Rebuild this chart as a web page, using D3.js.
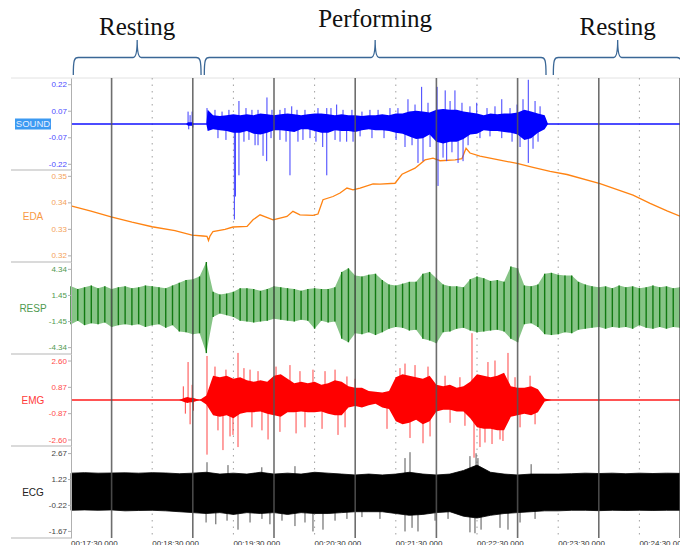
<!DOCTYPE html>
<html>
<head>
<meta charset="utf-8">
<script src="https://cdn.jsdelivr.net/npm/d3@7"></script>
<style>
  body { margin: 0; background: #fff; }
  svg text { font-family: "Liberation Sans", Arial, sans-serif; }
</style>
</head>
<body>
<div id="chart"></div>
<script>
// all times are seconds after 00:17:30.000

var timeTicks = [0, 60, 120, 180, 240, 300, 360, 420];
var timeLabels = ['00:17:30.000', '00:18:30.000', '00:19:30.000', '00:20:30.000',
  '00:21:30.000', '00:22:30.000', '00:23:30.000', '00:24:30.000'];
var minuteMarks = [30, 90, 150, 210, 270, 330, 390, 450];

var phaseNames = ['Resting', 'Performing', 'Resting'];
var phaseStart = [1.7, 98.5, 356.4];
var phaseEnd = [96.1, 351, 451.5];

var channelNames = ['SOUND', 'EDA', 'RESP', 'EMG', 'ECG'];

var soundTicks = [0.225, 0.075, -0.075, -0.225];
var soundTickLabels = ['0.22', '0.07', '-0.07', '-0.22'];
var edaTicks = [0.35, 0.34, 0.33, 0.32];
var edaTickLabels = ['0.35', '0.34', '0.33', '0.32'];
var respTicks = [4.34, 1.45, -1.45, -4.34];
var respTickLabels = ['4.34', '1.45', '-1.45', '-4.34'];
var emgTicks = [2.6, 0.867, -0.867, -2.6];
var emgTickLabels = ['2.60', '0.87', '-0.87', '-2.60'];
var ecgTicks = [2.67, 1.22, -0.22, -1.67];
var ecgTickLabels = ['2.67', '1.22', '-0.22', '-1.67'];

// SOUND: envelope of the dense band + single spikes
var soundT = [85, 86.5, 88, 89.5, 91, 100, 101, 105, 110, 115, 120, 125, 130, 135, 140, 145, 150, 155, 160, 165,
  170, 175, 180, 185, 190, 195, 200, 205, 210, 215, 220, 225, 230, 235, 240, 245, 250, 255, 260, 265,
  270, 275, 280, 285, 290, 295, 300, 305, 310, 315, 320, 325, 330, 335, 340, 345, 350, 352.5];
var soundHi = [0, 0.01, 0.01, 0.01, 0, 0, 0.08, 0.05, 0.045, 0.05, 0.055, 0.05, 0.055, 0.05, 0.06, 0.055, 0.05, 0.055, 0.06, 0.055,
  0.05, 0.055, 0.06, 0.06, 0.055, 0.05, 0.055, 0.05, 0.05, 0.045, 0.05, 0.05, 0.055, 0.05, 0.06, 0.06, 0.07, 0.075, 0.07, 0.065,
  0.08, 0.085, 0.08, 0.08, 0.07, 0.065, 0.06, 0.05, 0.06, 0.055, 0.06, 0.06, 0.065, 0.08, 0.07, 0.06, 0.05, 0];
var soundLo = [0, -0.01, -0.01, -0.01, 0, 0, -0.04, -0.03, -0.035, -0.04, -0.05, -0.05, -0.04, -0.055, -0.06, -0.05, -0.035, -0.035, -0.04, -0.045,
  -0.03, -0.03, -0.04, -0.05, -0.05, -0.035, -0.04, -0.04, -0.045, -0.035, -0.03, -0.035, -0.035, -0.04, -0.05, -0.055, -0.07, -0.085, -0.08, -0.06,
  -0.1, -0.11, -0.1, -0.1, -0.085, -0.06, -0.055, -0.035, -0.04, -0.04, -0.045, -0.05, -0.06, -0.09, -0.08, -0.05, -0.03, 0];
var soundSpikeT = [86.5, 89.5, 87, 88, 90, 100.5, 120.7, 121.5, 124.1, 124.1, 136, 141.9, 144.6, 144.8, 154.4, 154.4, 161.8, 163.1, 167.7,
  186, 189, 189, 196.3, 203.7, 208.4, 246.8, 249, 256.4, 259.1, 260.1, 270.5, 271.2, 274.9, 276.5, 277.6, 283.7,
  286, 289.7, 299.8, 318.3, 318.3, 334, 337.9, 337.9, 341.4, 342.9,
  101.2, 106.4, 111.6, 116.7, 129.3, 133.7, 138.2, 148.5, 158.1, 167, 172.9, 182.5, 192.1, 201, 207.6, 215, 220.9,
  226.9, 235.7, 241.6, 254.2, 263.8, 280.1, 288.9, 294.8, 307.4, 313.3, 324.4, 329.6, 346.6,
  108.6, 114.5, 127.8, 131.5, 138.2, 147.8, 158.9, 171.4, 176.6, 181, 195.1, 198.8, 213.6, 222.4, 231.3, 240.2,
  252, 265.3, 281.5, 293.4, 302.2, 309.6, 325.9, 331.8, 345.1];
var soundSpikeV = [0.07, 0.07, -0.03, 0.05, -0.02, 0.09, -0.54, -0.41, -0.29, 0.13, -0.12, -0.18, -0.21, 0.15, -0.09, 0.08, -0.29, 0.10, -0.10,
  -0.13, -0.29, 0.09, 0.11, -0.10, -0.10, -0.13, 0.14, -0.22, 0.21, -0.21, 0.21, -0.35, -0.19, 0.19, -0.21, 0.19,
  -0.22, -0.21, 0.12, -0.08, 0.14, 0.14, 0.25, -0.22, -0.14, 0.13,
  0.07, 0.08, 0.07, 0.08, 0.09, 0.08, 0.08, 0.08, 0.09, 0.08, 0.08, 0.09, 0.09, 0.08, 0.08, 0.07, 0.08,
  0.08, 0.09, 0.09, 0.11, 0.12, 0.13, 0.12, 0.10, 0.09, 0.10, 0.09, 0.11, 0.10,
  -0.08, -0.09, -0.10, -0.09, -0.12, -0.08, -0.10, -0.09, -0.08, -0.10, -0.09, -0.10, -0.07, -0.08, -0.08, -0.09,
  -0.12, -0.13, -0.16, -0.12, -0.08, -0.07, -0.10, -0.13, -0.10];

// EDA: slow line
var edaT = [0, 14.8, 29.6, 45.1, 59.9, 76.8, 89.4, 97.5, 100.5, 101.6, 102.7, 104.9, 113.8, 119.7, 130.1, 134.5, 139.7, 144.1,
  149.3, 159.6, 164, 169.2, 178.8, 182.5, 186.2, 193.6, 198.8, 203.9, 208.4, 213.6, 223.2, 228.3, 239.4, 244.6, 254.2,
  261.6, 267.5, 272.7, 283.8, 288.9, 291.9, 294.8, 302.2, 317, 329.6, 341.4, 354, 366.5, 390.9, 415.3, 427.9, 440.4, 450];
var edaV = [0.3387, 0.3367, 0.3345, 0.3325, 0.3308, 0.3293, 0.3276, 0.3273, 0.3272, 0.3256, 0.3273, 0.3290, 0.3298, 0.3307,
  0.3309, 0.3334, 0.3353, 0.3344, 0.3334, 0.3347, 0.3366, 0.3353, 0.3351, 0.3356, 0.3410, 0.3422, 0.3435, 0.3454, 0.3447,
  0.3454, 0.3470, 0.3469, 0.3472, 0.3506, 0.3529, 0.3560, 0.3567, 0.3557, 0.3560, 0.3565, 0.3604, 0.3586, 0.3574, 0.3559,
  0.3547, 0.3532, 0.3517, 0.3505, 0.3471, 0.3427, 0.3396, 0.3368, 0.3348];

// RESP: breathing envelope every 5 s (peaks / troughs)
var respT = d3.range(0, 451, 5);
var respHi = [2.4, 2.1, 2.3, 2.5, 2.2, 2.4, 2.1, 2.3, 2.4, 2.2, 2.3, 2.5, 2.4, 2.3, 2.2, 2.5, 2.8, 3.1, 3.2, 3.5,
  5.1, 1.8, 1.5, 1.6, 1.8, 2.2, 2.2, 2.1, 1.9, 2.1, 2.4, 2.3, 2.2, 2.1, 1.9, 2.1, 2.2, 2.1, 2.1, 2.3,
  4.0, 4.4, 3.6, 3.5, 3.7, 3.8, 3.1, 2.6, 2.5, 2.7, 2.9, 2.9, 3.8, 4.0, 3.3, 2.6, 2.4, 2.4, 2.3, 3.2,
  3.5, 3.3, 3.0, 3.1, 2.9, 4.6, 4.4, 2.5, 2.4, 2.6, 3.8, 3.9, 3.7, 3.6, 3.6, 2.9, 2.6, 2.4, 2.3, 2.4,
  2.2, 2.5, 2.3, 2.4, 2.2, 2.3, 2.5, 2.3, 2.4, 2.2, 2.3];
var respLo = [-1.8, -1.4, -1.9, -1.7, -1.8, -1.6, -2.1, -1.9, -1.8, -1.9, -1.8, -2.1, -1.9, -1.8, -2.2, -1.9, -2.6, -2.7, -2.9, -2.8,
  -5.0, -1.0, -0.6, -0.8, -1.0, -1.4, -1.5, -1.6, -1.5, -1.4, -1.2, -1.3, -1.4, -1.5, -1.3, -1.4, -2.3, -1.4, -1.6, -1.5,
  -3.4, -3.8, -2.8, -2.9, -2.7, -3.0, -2.7, -2.3, -2.1, -2.2, -2.5, -2.4, -3.4, -3.6, -3.9, -2.7, -2.6, -2.3, -2.2, -2.5,
  -2.7, -2.6, -2.5, -2.4, -2.6, -3.4, -3.8, -1.8, -1.7, -2.1, -2.9, -3.0, -2.9, -2.7, -2.8, -2.4, -2.3, -2.2, -2.1, -2.3,
  -2.1, -2.2, -2.1, -2.3, -1.9, -2.2, -2.3, -2.1, -2.3, -2.1, -2.2];

// EMG
var emgT = [80, 84, 86, 88, 90, 95, 100, 105, 110, 115, 120, 125, 130, 135, 140, 145, 150, 155, 160, 165, 170, 175,
  180, 185, 190, 195, 200, 205, 210, 215, 220, 225, 230, 235, 240, 245, 250, 255, 260, 265, 270, 275, 280, 285,
  290, 295, 300, 305, 310, 315, 320, 325, 330, 335, 340, 345, 350, 355];
var emgHi = [0, 0.15, 0.2, 0.15, 0.15, 0, 0.3, 1.6, 1.5, 1.6, 1.4, 1.5, 1.3, 1.2, 1.3, 1.2, 1.6, 1.7, 1.4, 1.1, 1.2, 1.1,
  1.2, 1.0, 1.1, 1.3, 1.2, 0.9, 0.8, 0.8, 0.6, 0.55, 0.5, 0.6, 1.5, 1.7, 1.6, 1.5, 1.4, 1.6, 1.0, 0.9, 1.0, 0.8,
  0.9, 1.2, 1.7, 1.6, 1.5, 1.6, 1.8, 0.9, 0.8, 0.8, 0.9, 0.7, 0.1, 0];
var emgLo = [0, -0.15, -0.2, -0.15, -0.15, 0, -0.3, -1.0, -1.1, -1.0, -1.2, -0.9, -0.8, -0.8, -0.75, -0.9, -1.0, -1.1, -0.8, -0.8, -0.75, -0.8,
  -0.8, -0.75, -0.9, -1.0, -1.0, -0.5, -0.4, -0.5, -0.35, -0.25, -0.5, -0.6, -1.4, -1.6, -1.5, -1.3, -1.6, -1.4, -0.75, -0.65, -0.65, -0.75,
  -0.75, -1.2, -1.8, -1.9, -1.9, -2.0, -2.0, -1.1, -1.0, -0.9, -1.0, -0.8, -0.1, 0];
var emgSpikeT = [83, 84.5, 86.5, 88, 89.5, 90.5, 100.5, 100.5, 112.3, 119.7, 123.4, 123.4, 127.8, 145.6, 151.5, 178.8, 197.3, 203.9,
  233.5, 243.1, 260.1, 296.3, 297.8, 302.2, 317, 322.9,
  106.4, 114.5, 132.3, 138.2, 161.8, 169.2, 187.7, 195.1, 209.9, 246.8, 254.2, 263.8, 276.4, 287.4, 308.1, 313.3, 328.1, 339.2,
  108.6, 117.5, 133.7, 141.1, 154.4, 166.3, 172.9, 185.5, 202.5, 250.5, 265.3, 280.1, 291.1, 305.9, 311.1, 319.2, 331.8, 342.9];
var emgSpikeV = [0.9, -0.9, 2.5, -1.6, 1.0, -0.7, 2.9, -3.6, -3.3, -2.3, 3.1, -3.1, 2.1, -2.6, 2.2, 2.0, -2.3, 1.55,
  -1.9, 2.1, -2.85, 4.4, -3.8, -3.1, -2.6, 3.1,
  2.2, 2.0, 2.0, 1.9, 2.3, 1.9, 1.9, 2.0, 1.4, 2.4, 2.3, 2.2, 1.6, 1.5, 2.5, 2.6, 1.5, 1.6,
  -2.0, -2.4, -1.8, -2.0, -2.1, -2.2, -1.8, -1.9, -1.8, -2.5, -2.4, -1.5, -1.7, -2.8, -2.9, -2.7, -1.8, -1.6];

// ECG: dense band every 10 s + extreme beats
var ecgT = d3.range(0, 451, 10);
var ecgHi = [1.55, 1.58, 1.55, 1.56, 1.57, 1.55, 1.58, 1.56, 1.52, 1.55, 1.6, 1.5, 1.55, 1.5, 1.6, 1.5, 1.55, 1.5, 1.6, 1.55,
  1.5, 1.45, 1.5, 1.45, 1.5, 1.6, 1.5, 1.45, 1.5, 1.7, 2.0, 1.6, 1.5, 1.45, 1.5, 1.5, 1.5, 1.52, 1.55, 1.53,
  1.55, 1.52, 1.55, 1.53, 1.55, 1.54];
var ecgLo = [-0.52, -0.5, -0.52, -0.5, -0.55, -0.53, -0.52, -0.55, -0.6, -0.65, -0.7, -0.65, -0.75, -0.65, -0.7, -0.65, -0.75, -0.65, -0.7, -0.7,
  -0.65, -0.6, -0.6, -0.6, -0.7, -0.8, -0.75, -0.65, -0.6, -0.85, -0.95, -0.8, -0.7, -0.65, -0.6, -0.55, -0.55, -0.52, -0.52, -0.54,
  -0.52, -0.53, -0.52, -0.53, -0.52, -0.52];
var ecgSpikeT = [99.8, 107, 115.3, 123.4, 132.3, 141.1, 147, 155.9, 165.5, 172.9, 178.8, 186.2, 195.1, 203.9, 215, 228.3,
  246.8, 252, 256.4, 269, 278.6, 294.8, 298.5, 303, 317, 322.9, 331.8, 342.9,
  100.5, 116, 141, 165.5, 246.8, 250.5, 294.8, 299.3, 300.7, 340];
var ecgSpikeV = [-1.2, -1.3, -1.1, -1.6, -1.2, -1.0, -1.3, -1.1, -1.4, -1.2, -1.7, -1.6, -1.1, -1.0, -0.9, -1.0,
  -1.7, -1.5, -1.7, -1.1, -1.0, -1.75, -1.8, -1.6, -1.5, -1.6, -1.2, -1.0,
  2.16, 2.0, 1.88, 1.94, 2.39, 2.72, 2.5, 2.66, 2.39, 2.05];

// ---------- layout ----------
var width = 680, height = 545;
var plotLeft = 71, plotTop = 78, panelH = 92;
var phaseLabelY = [35, 27, 35];

var svg = d3.select('#chart').append('svg')
  .attr('width', width)
  .attr('height', height);

var x = d3.scaleLinear().domain([0, 450]).range([plotLeft, width]);

var panels = [
  { domain: [-0.26, 0.26], ticks: soundTicks, labels: soundTickLabels, tickColor: '#4b4bff', nameColor: '#e6eeff' },
  { domain: [0.3175, 0.3522], ticks: edaTicks, labels: edaTickLabels, tickColor: '#f4a259', nameColor: '#f79a45' },
  { domain: [-5.1, 5.1], ticks: respTicks, labels: respTickLabels, tickColor: '#4f9a4f', nameColor: '#4f9a4f' },
  { domain: [-3.03, 3.03], ticks: emgTicks, labels: emgTickLabels, tickColor: '#ff4a4a', nameColor: '#ff3a3a' },
  { domain: [-2.065, 3.065], ticks: ecgTicks, labels: ecgTickLabels, tickColor: '#444', nameColor: '#222' }
];
var y = panels.map(function(p, i) {
  var t = plotTop + i * panelH;
  return d3.scaleLinear().domain(p.domain).range([t + panelH, t]);
});
var plotBottom = plotTop + 5 * panelH;

// frame lines on the left
svg.append('line')
  .attr('x1', 11).attr('x2', width).attr('y1', plotTop).attr('y2', plotTop)
  .attr('stroke', '#e2e2e2');
svg.selectAll('.sep')
  .data([1, 2, 3, 4, 5])
  .enter().append('line')
  .attr('x1', 11).attr('x2', plotLeft)
  .attr('y1', function(d) { return plotTop + d * panelH; })
  .attr('y2', function(d) { return plotTop + d * panelH; })
  .attr('stroke', '#b5b5b5');

// dotted half-minute lines
svg.selectAll('.dot')
  .data(timeTicks.slice(1))
  .enter().append('line')
  .attr('x1', function(d) { return x(d); })
  .attr('x2', function(d) { return x(d); })
  .attr('y1', plotTop).attr('y2', plotBottom)
  .attr('stroke', '#a0a0a0')
  .attr('stroke-dasharray', '1.5,5');

// helpers
function band(t, hi, lo, ys) {
  return d3.area()
    .x(function(d, i) { return x(t[i]); })
    .y0(function(d, i) { return ys(lo[i]); })
    .y1(function(d, i) { return ys(hi[i]); })(t);
}
function spikes(g, t, v, ys, color) {
  g.selectAll(null)
    .data(t)
    .enter().append('line')
    .attr('x1', function(d) { return x(d); })
    .attr('x2', function(d) { return x(d); })
    .attr('y1', ys(0))
    .attr('y2', function(d, i) { return ys(v[i]); })
    .attr('stroke', color)
    .attr('stroke-width', 1);
}
function flat(g, ys, color) {
  g.append('line')
    .attr('x1', x(0)).attr('x2', x(450))
    .attr('y1', ys(0)).attr('y2', ys(0))
    .attr('stroke', color).attr('stroke-width', 1.6);
}

var sig = svg.append('g');

// EDA
sig.append('path')
  .attr('d', d3.line()
    .x(function(d, i) { return x(edaT[i]); })
    .y(function(d, i) { return y[1](edaV[i]); })(edaT))
  .attr('fill', 'none')
  .attr('stroke', '#ff8312')
  .attr('stroke-width', 1.3);

// SOUND
var gs = sig.append('g');
flat(gs, y[0], '#1010ff');
spikes(gs, soundSpikeT, soundSpikeV, y[0], '#3c3cff');
gs.append('path')
  .attr('d', band(soundT, soundHi, soundLo, y[0]))
  .attr('fill', '#0000ff');

// RESP
var gr = sig.append('g');
gr.append('path')
  .attr('d', band(respT, respHi, respLo, y[2]))
  .attr('fill', '#86c486');
gr.selectAll(null)
  .data(respT)
  .enter().append('line')
  .attr('x1', function(d) { return x(d); })
  .attr('x2', function(d) { return x(d); })
  .attr('y1', function(d, i) { return y[2](respLo[i]); })
  .attr('y2', function(d, i) { return y[2](respHi[i]); })
  .attr('stroke', '#117a11')
  .attr('stroke-width', 1.4);

// EMG
var ge = sig.append('g');
flat(ge, y[3], '#ff1a1a');
spikes(ge, emgSpikeT, emgSpikeV, y[3], '#ff4545');
ge.append('path')
  .attr('d', band(emgT, emgHi, emgLo, y[3]))
  .attr('fill', '#ff0000');

// ECG
var gc = sig.append('g');
spikes(gc, ecgSpikeT, ecgSpikeV, y[4], '#555');
gc.append('path')
  .attr('d', band(ecgT, ecgHi, ecgLo, y[4]))
  .attr('fill', '#000').attr('stroke', '#000').attr('stroke-width', 0.8);

// solid minute lines on top
svg.selectAll('.minute')
  .data(minuteMarks)
  .enter().append('line')
  .attr('x1', function(d) { return x(d); })
  .attr('x2', function(d) { return x(d); })
  .attr('y1', plotTop).attr('y2', plotBottom)
  .attr('stroke', '#555')
  .attr('stroke-opacity', 0.85)
  .attr('stroke-width', 1.6);

// y axes
panels.forEach(function(p, i) {
  var ax = svg.append('g')
    .attr('transform', 'translate(' + plotLeft + ',0)')
    .call(d3.axisLeft(y[i])
      .tickValues(p.ticks)
      .tickFormat(function(d, j) { return p.labels[j]; })
      .tickSize(3)
      .tickSizeOuter(0));
  ax.select('.domain').attr('stroke', '#b0b0b0');
  ax.selectAll('.tick line').attr('stroke', '#b0b0b0');
  ax.selectAll('.tick text')
    .attr('fill', p.tickColor)
    .style('font-size', '8px')
    .attr('x', -4);
});

// channel names
svg.append('rect')
  .attr('x', 15).attr('y', y[0](0) - 5.5)
  .attr('width', 36).attr('height', 11)
  .attr('fill', '#3c9af2');
svg.selectAll('.cname')
  .data(channelNames)
  .enter().append('text')
  .attr('x', 33)
  .attr('y', function(d, i) { return plotTop + i * panelH + panelH / 2; })
  .attr('dy', '0.35em')
  .attr('text-anchor', 'middle')
  .style('font-size', function(d, i) { return i === 0 ? '9.5px' : '10px'; })
  .attr('fill', function(d, i) { return panels[i].nameColor; })
  .text(function(d) { return d; });

// time labels (cut by the bottom edge, as in the original)
svg.selectAll('.tl')
  .data(timeTicks)
  .enter().append('text')
  .attr('x', function(d) { return x(d); })
  .attr('y', 546)
  .style('font-size', '8px')
  .attr('fill', '#333')
  .text(function(d, i) { return timeLabels[i]; });

// phase braces
function brace(x1, x2) {
  var yl = 57.5, ye = 75, yt = 40, r = 5, m = (x1 + x2) / 2;
  return 'M' + x1 + ',' + ye +
    'C' + x1 + ',' + (yl + 2) + ' ' + (x1 + 1) + ',' + yl + ' ' + (x1 + r) + ',' + yl +
    'L' + (m - 4) + ',' + yl +
    'Q' + m + ',' + yl + ' ' + m + ',' + yt +
    'Q' + m + ',' + yl + ' ' + (m + 4) + ',' + yl +
    'L' + (x2 - r) + ',' + yl +
    'C' + (x2 - 1) + ',' + yl + ' ' + x2 + ',' + (yl + 2) + ' ' + x2 + ',' + ye;
}
svg.selectAll('.brace')
  .data(phaseNames)
  .enter().append('path')
  .attr('d', function(d, i) { return brace(x(phaseStart[i]), x(phaseEnd[i])); })
  .attr('fill', 'none')
  .attr('stroke', '#3a6796')
  .attr('stroke-width', 1.3);

svg.selectAll('.phase')
  .data(phaseNames)
  .enter().append('text')
  .attr('x', function(d, i) { return x((phaseStart[i] + phaseEnd[i]) / 2); })
  .attr('y', function(d, i) { return phaseLabelY[i]; })
  .attr('text-anchor', 'middle')
  .style('font-family', '"Liberation Serif", "Times New Roman", serif')
  .style('font-size', '25px')
  .attr('fill', '#111')
  .text(function(d) { return d; });
</script>
</body>
</html>
